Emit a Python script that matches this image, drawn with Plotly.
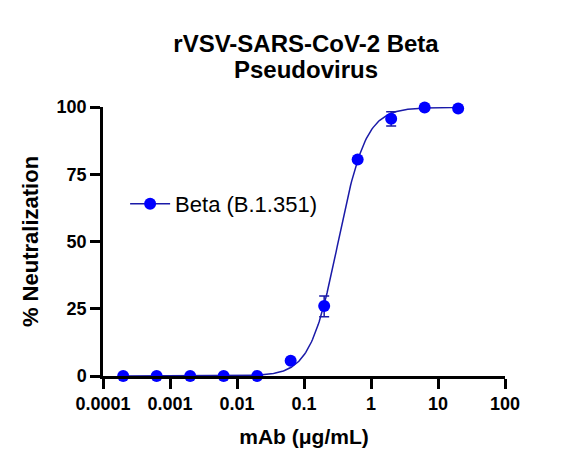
import numpy as np
import plotly.graph_objects as go

# Measured data (concentration in µg/mL, % neutralization)
conc = [0.0002, 0.000632, 0.002, 0.00632, 0.02, 0.0632, 0.2, 0.632, 2.0, 6.32, 20.0]
neut = [0.0, 0.0, 0.0, 0.0, 0.0, 5.7, 26.0, 80.5, 95.6, 99.8, 99.4]
err_plus = [0, 0, 0, 0, 0, 0, 3.7, 0, 2.6, 0, 0]
err_minus = [0, 0, 0, 0, 0, 0, 4.0, 0, 2.7, 0, 0]

# 4-parameter logistic fit
fit_bottom = 0.0
fit_top = 99.8
fit_log_ec50 = -0.49
fit_hill = 2.1

x_tickvals = [0.0001, 0.001, 0.01, 0.1, 1, 10, 100]
x_ticktext = ["0.0001", "0.001", "0.01", "0.1", "1", "10", "100"]
y_tickvals = [0, 25, 50, 75, 100]

series_name = "Beta (B.1.351)"
title_line1 = "rVSV-SARS-CoV-2 Beta"
title_line2 = "Pseudovirus"

curve_x = np.logspace(np.log10(min(conc)), np.log10(max(conc)), 300)
curve_y = fit_bottom + (fit_top - fit_bottom) / (1 + 10 ** ((fit_log_ec50 - np.log10(curve_x)) * fit_hill))

MARK = "#0000ff"
LINE = "#1a1aa8"
FONT = "Liberation Sans, Arial, sans-serif"

fig = go.Figure()
fig.add_trace(go.Scatter(
    x=curve_x, y=curve_y, mode="lines",
    line=dict(color=LINE, width=1.5), showlegend=False, hoverinfo="skip",
    cliponaxis=False,
))
fig.add_trace(go.Scatter(
    x=conc, y=neut, mode="markers",
    marker=dict(color=MARK, size=12),
    error_y=dict(type="data", symmetric=False, array=err_plus, arrayminus=err_minus,
                 color=LINE, thickness=1.5, width=5),
    showlegend=False, cliponaxis=False,
))
# legend entry (marker + line)
fig.add_trace(go.Scatter(
    x=[None], y=[None], mode="lines+markers", name=series_name,
    marker=dict(color=MARK, size=12), line=dict(color=LINE, width=1.5),
))

fig.update_layout(
    width=562, height=461,
    margin=dict(l=95, r=65, t=99, b=93),
    paper_bgcolor="white", plot_bgcolor="white",
    font=dict(family=FONT, color="black"),
    title=dict(text="<b>" + title_line1 + "</b>", x=306 / 562 - 8 / 562, xanchor="center",
               xref="container", yref="container", y=1 - (44 - 8) / 461, yanchor="middle",
               font=dict(size=24, family=FONT, color="black")),
    annotations=[dict(text="<b>" + title_line2 + "</b>", xref="paper", yref="paper",
                      x=(306 - 103) / 402, y=(376 - 69) / 269, xanchor="center", yanchor="middle",
                      showarrow=False, font=dict(size=24, family=FONT, color="black"))],
    legend=dict(x=0.055, y=0.64, xanchor="left", yanchor="middle", itemwidth=40,
                bgcolor="rgba(0,0,0,0)", font=dict(size=22, family=FONT, color="black")),
    showlegend=True,
)
fig.update_xaxes(
    type="log", range=[-4, 2], tickvals=x_tickvals, ticktext=x_ticktext,
    showgrid=False, zeroline=False, showline=True, linecolor="black", linewidth=2.5,
    ticks="outside", ticklen=10, tickwidth=2.5, tickcolor="black",
    tickfont=dict(size=18, family=FONT, color="black", weight="bold"),
    title=dict(text="<b>mAb (μg/mL)</b>", font=dict(size=21, family=FONT, color="black"), standoff=16),
)
fig.update_yaxes(
    range=[0, 100], tickvals=y_tickvals,
    showgrid=False, zeroline=False, showline=True, linecolor="black", linewidth=2.5,
    ticks="outside", ticklen=10, tickwidth=2.5, tickcolor="black",
    tickfont=dict(size=18, family=FONT, color="black", weight="bold"),
    title=dict(text="<b>% Neutralization</b>", font=dict(size=22, family=FONT, color="black"), standoff=12),
)

fig.write_html("out.html")
